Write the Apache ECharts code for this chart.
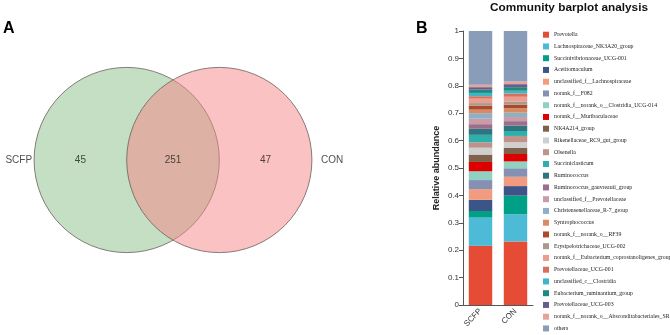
<!DOCTYPE html>
<html>
<head>
<meta charset="utf-8">
<script src="https://cdn.jsdelivr.net/npm/echarts@6/dist/echarts.min.js"></script>
<style>
  html, body { margin: 0; padding: 0; background: #fff; }
  #chart { width: 670px; height: 335px; }
</style>
</head>
<body>
<div id="chart"></div>
<script>
// venn: two groups, unique counts and the shared count
const vennSets = ['SCFP', 'CON'];
const vennOnly = [45, 47];
const vennShared = 251;

// community barplot
const groups = ['SCFP', 'CON'];
const taxa = [
  'Prevotella',
  'Lachnospiraceae_NK3A20_group',
  'Succinivibrionaceae_UCG-001',
  'Acetitomaculum',
  'unclassified_f__Lachnospiraceae',
  'norank_f__F082',
  'norank_f__norank_o__Clostridia_UCG-014',
  'norank_f__Muribaculaceae',
  'NK4A214_group',
  'Rikenellaceae_RC9_gut_group',
  'Olsenella',
  'Succiniclasticum',
  'Ruminococcus',
  'Ruminococcus_gauvreauii_group',
  'unclassified_f__Prevotellaceae',
  'Christensenellaceae_R-7_group',
  'Syntrophococcus',
  'norank_f__norank_o__RF39',
  'Erysipelotrichaceae_UCG-002',
  'norank_f__Eubacterium_coprostanoligenes_group',
  'Prevotellaceae_UCG-001',
  'unclassified_c__Clostridia',
  'Eubacterium_ruminantium_group',
  'Prevotellaceae_UCG-003',
  'norank_f__norank_o__Absconditabacteriales_SR1',
  'others'
];
const scfpAbund = [0.216, 0.103, 0.024, 0.041, 0.039, 0.033, 0.032, 0.034, 0.027, 0.025, 0.020, 0.027, 0.022,
  0.017, 0.020, 0.020, 0.013, 0.014, 0.010, 0.016, 0.009, 0.012, 0.012, 0.009, 0.009, 0.196];
const conAbund = [0.232, 0.099, 0.068, 0.035, 0.034, 0.031, 0.025, 0.027, 0.023, 0.020, 0.023, 0.018, 0.020,
  0.016, 0.015, 0.016, 0.016, 0.013, 0.012, 0.017, 0.012, 0.010, 0.013, 0.011, 0.010, 0.184];
const yTicks = [0, 0.1, 0.2, 0.3, 0.4, 0.5, 0.6, 0.7, 0.8, 0.9, 1];

const taxaColors = [
  '#E64B35', '#4DBBD5', '#00A087', '#3C5488', '#F39B7F', '#8491B4', '#91D1C2', '#DC0000',
  '#7E6148', '#CFCFCF', '#C0928C', '#2DB0AC', '#2F7580', '#9C6E8E', '#C99CA8', '#8DB0C4',
  '#D98A62', '#AE4A2C', '#A89A8E', '#EE9C8C', '#D9705F', '#3EB6C8', '#1F8A7C', '#6A5A8E',
  '#E6A39C', '#8A9DB8'
];
const vennFill = ['rgba(139,191,139,0.5)', 'rgba(245,133,133,0.5)'];

const sans = 'Liberation Sans';
const serif = 'Liberation Serif';

const chart = echarts.init(document.getElementById('chart'));

// circles sit one radius apart, radius 1 in data units
const circles = vennSets.map((name, i) => ({
  name: name,
  value: [i === 0 ? -0.5 : 0.5, 0, 1],
  itemStyle: { color: vennFill[i] }
}));
const vennLabels = [
  { value: [-1.0, 0, String(vennOnly[0])] },
  { value: [0, 0, String(vennShared)] },
  { value: [1.0, 0, String(vennOnly[1])] },
  { value: [-1.5, 0, vennSets[0]], label: { position: 'left', distance: 2 } },
  { value: [1.5, 0, vennSets[1]], label: { position: 'right', distance: 9 } }
];

const barSeries = taxa.map((name, i) => ({
  name: name,
  type: 'bar',
  stack: 'total',
  xAxisIndex: 1,
  yAxisIndex: 1,
  barWidth: '67%',
  itemStyle: { color: taxaColors[i] },
  data: [scfpAbund[i], conAbund[i]]
}));

chart.setOption({
  animation: false,
  title: [
    {
      text: 'Community barplot analysis',
      left: 569,
      top: 2,
      padding: 0,
      textAlign: 'center',
      textStyle: { fontFamily: sans, fontSize: 11.8, fontWeight: 'bold', color: '#111' }
    },
    { text: 'A', left: 3, top: 21, padding: 0, textStyle: { fontFamily: sans, fontSize: 16, fontWeight: 'bold', color: '#000' } },
    { text: 'B', left: 416, top: 21, padding: 0, textStyle: { fontFamily: sans, fontSize: 16, fontWeight: 'bold', color: '#000' } }
  ],
  legend: {
    orient: 'vertical',
    left: 543,
    top: 31.7,
    padding: 0,
    itemWidth: 6,
    itemHeight: 6,
    itemGap: 5.75,
    icon: 'rect',
    selectedMode: false,
    data: taxa,
    textStyle: { fontFamily: serif, fontSize: 5.8, lineHeight: 6, color: '#222' }
  },
  grid: [
    { left: 6.3, top: 21.1, width: 333.4, height: 277.8 },
    { left: 463, top: 31, width: 70, height: 274 }
  ],
  xAxis: [
    { gridIndex: 0, type: 'value', min: -1.8, max: 1.8, show: false },
    {
      gridIndex: 1,
      type: 'category',
      data: groups,
      axisLine: { lineStyle: { color: '#555', width: 1 } },
      axisTick: { alignWithLabel: true, length: 4, lineStyle: { color: '#555' } },
      axisLabel: { rotate: 45, fontFamily: sans, fontSize: 8, color: '#333', margin: 5 }
    }
  ],
  yAxis: [
    { gridIndex: 0, type: 'value', min: -1.5, max: 1.5, show: false },
    {
      gridIndex: 1,
      type: 'value',
      min: yTicks[0],
      max: yTicks[yTicks.length - 1],
      interval: 0.1,
      name: 'Relative abundance',
      nameLocation: 'middle',
      nameGap: 22,
      nameTextStyle: { fontFamily: sans, fontSize: 9, fontWeight: 'bold', color: '#222' },
      axisLine: { show: true, lineStyle: { color: '#555', width: 1 } },
      axisTick: { show: true, length: 4, lineStyle: { color: '#555' } },
      axisLabel: { fontFamily: sans, fontSize: 8, color: '#333', margin: 4 },
      splitLine: { show: false }
    }
  ],
  series: [
    {
      type: 'custom',
      xAxisIndex: 0,
      yAxisIndex: 0,
      silent: true,
      renderItem: (params, api) => {
        const c = api.coord([api.value(0), api.value(1)]);
        const r = api.size([api.value(2), 0])[0];
        return {
          type: 'circle',
          shape: { cx: c[0], cy: c[1], r: r },
          style: { fill: api.visual('color'), stroke: '#6b5e58', lineWidth: 0.8 }
        };
      },
      data: circles
    },
    {
      type: 'scatter',
      xAxisIndex: 0,
      yAxisIndex: 0,
      symbolSize: 0,
      silent: true,
      label: {
        show: true,
        position: 'inside',
        formatter: p => p.value[2],
        fontFamily: sans,
        fontSize: 10,
        color: '#222'
      },
      data: vennLabels
    }
  ].concat(barSeries)
});
</script>
</body>
</html>
